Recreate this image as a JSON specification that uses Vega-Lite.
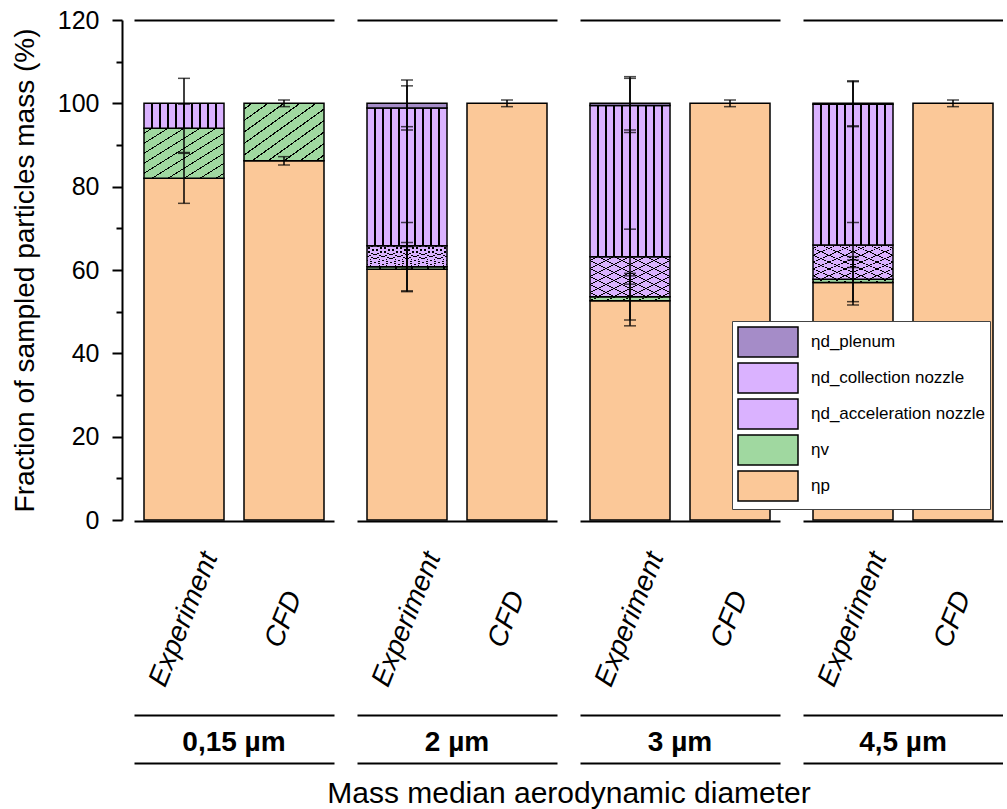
{
  "$schema": "https://vega.github.io/schema/vega-lite/v6.json",
  "padding": {"left": 11, "top": 8, "right": 0, "bottom": 0},
  "config": {
    "view": {"stroke": null},
    "font": "Liberation Sans",
    "scale": {"bandPaddingInner": 0.2, "bandPaddingOuter": 0.1},
    "axis": {"labelColor": "black", "titleColor": "black", "domainColor": "black", "tickColor": "black", "grid": false, "labelFont": "Liberation Sans", "titleFont": "Liberation Sans"},
    "axisY": {"orient": "left", "offset": 12, "tickCount": 12, "labelExpr": "datum.value % 20 === 0 ? datum.label : ''", "tickWidth": 2, "domainWidth": 2, "labelFontSize": 25, "labelPadding": 13, "titleFontSize": 28, "titleFontWeight": "normal", "titlePadding": 18}
  },
  "data": {"values": [
    {"group": "0,15 µm", "type": "Experiment", "series": "ηp", "value": 82.0, "err": 6.0},
    {"group": "0,15 µm", "type": "Experiment", "series": "ηv", "value": 12.0, "err": 5.8},
    {"group": "0,15 µm", "type": "Experiment", "series": "ηd_collection nozzle", "value": 6.0, "err": 6.0},
    {"group": "0,15 µm", "type": "CFD", "series": "ηp", "value": 86.2, "err": 1.0},
    {"group": "0,15 µm", "type": "CFD", "series": "ηv", "value": 13.8, "err": 0.8},
    {"group": "2 µm", "type": "Experiment", "series": "ηp", "value": 60.2, "err": 5.4},
    {"group": "2 µm", "type": "Experiment", "series": "ηv", "value": 0.6, "err": 5.8},
    {"group": "2 µm", "type": "Experiment", "series": "ηd_acceleration nozzle", "value": 5.0, "err": 5.6},
    {"group": "2 µm", "type": "Experiment", "series": "ηd_collection nozzle", "value": 33.1, "err": 5.3},
    {"group": "2 µm", "type": "Experiment", "series": "ηd_plenum", "value": 1.1, "err": 5.6},
    {"group": "2 µm", "type": "CFD", "series": "ηp", "value": 100.0, "err": 0.8},
    {"group": "3 µm", "type": "Experiment", "series": "ηp", "value": 52.6, "err": 6.0},
    {"group": "3 µm", "type": "Experiment", "series": "ηv", "value": 1.0, "err": 5.6},
    {"group": "3 µm", "type": "Experiment", "series": "ηd_acceleration nozzle", "value": 9.6, "err": 6.6},
    {"group": "3 µm", "type": "Experiment", "series": "ηd_collection nozzle", "value": 36.3, "err": 6.5},
    {"group": "3 µm", "type": "Experiment", "series": "ηd_plenum", "value": 0.5, "err": 6.4},
    {"group": "3 µm", "type": "CFD", "series": "ηp", "value": 100.0, "err": 0.8},
    {"group": "4,5 µm", "type": "Experiment", "series": "ηp", "value": 57.0, "err": 5.4},
    {"group": "4,5 µm", "type": "Experiment", "series": "ηv", "value": 0.8, "err": 5.4},
    {"group": "4,5 µm", "type": "Experiment", "series": "ηd_acceleration nozzle", "value": 8.2, "err": 5.4},
    {"group": "4,5 µm", "type": "Experiment", "series": "ηd_collection nozzle", "value": 33.8, "err": 5.4},
    {"group": "4,5 µm", "type": "Experiment", "series": "ηd_plenum", "value": 0.2, "err": 5.4},
    {"group": "4,5 µm", "type": "CFD", "series": "ηp", "value": 100.0, "err": 0.8}
  ]},
  "transform": [
    {"calculate": "indexof(['ηp','ηv','ηd_acceleration nozzle','ηd_collection nozzle','ηd_plenum'], datum.series)", "as": "idx"},
    {"stack": "value", "groupby": ["group", "type"], "sort": [{"field": "idx", "order": "ascending"}], "as": ["v0", "v1"]},
    {"calculate": "datum.v1 - datum.err", "as": "lo"},
    {"calculate": "datum.v1 + datum.err", "as": "hi"}
  ],
  "facet": {"column": {"field": "group", "type": "nominal", "sort": ["0,15 µm", "2 µm", "3 µm", "4,5 µm"], "title": "Mass median aerodynamic diameter",
    "header": {"labelOrient": "bottom", "labelFontSize": 28, "labelFontWeight": "bold", "labelColor": "black", "labelFont": "Liberation Sans", "labelPadding": -34,
      "titleOrient": "bottom", "titleFontSize": 30, "titleFontWeight": "normal", "titleColor": "black", "titleFont": "Liberation Sans", "titlePadding": 6}}},
  "spacing": 23,
  "spec": {
    "width": 200,
    "height": 500,
    "resolve": {"axis": {"x": "independent"}},
    "layer": [
      {
        "mark": {"type": "bar", "stroke": "black", "strokeWidth": 1.5},
        "encoding": {
          "x": {"field": "type", "type": "nominal", "sort": ["Experiment", "CFD"],
            "axis": {"orient": "bottom", "title": null, "labelAngle": -68, "labelAlign": "center", "labelBaseline": "middle", "labelPadding": 98, "labelFontSize": 28, "labelFontStyle": "italic", "ticks": false, "tickSize": 0, "domainWidth": 2, "labelOverlap": false, "labelLimit": 300}},
          "y": {"field": "v0", "type": "quantitative", "scale": {"domain": [0, 120], "nice": false}, "title": "Fraction of sampled particles mass (%)",
            "axis": {"tickSize": {"condition": {"test": "datum.value % 20 !== 0", "value": 6}, "value": 10}}},
          "y2": {"field": "v1"},
          "fill": {"field": "series", "type": "nominal",
            "scale": {"domain": ["ηd_plenum", "ηd_collection nozzle", "ηd_acceleration nozzle", "ηv", "ηp"], "range": ["#A58CC8", "#DAB2FF", "#DAB2FF", "#A0D8A0", "#FBC898"]},
            "legend": {"title": null, "orient": "none", "legendX": 598, "legendY": 301, "symbolType": "M-2,-1H2V1H-2Z", "symbolSize": 900, "symbolOffset": 15, "labelOffset": 27,
              "labelFontSize": 17, "labelFont": "Liberation Sans", "labelColor": "black", "rowPadding": 0, "padding": 5, "strokeColor": "#444", "fillColor": "white",
              "symbolStrokeColor": "black", "symbolStrokeWidth": 1.5, "labelLimit": 300}
          }
        }
      },
      {
        "transform": [{"filter": "datum.series === 'ηd_collection nozzle'"}],
        "mark": {"type": "bar", "strokeWidth": 0, "fill": {"gradient": "linear", "x1": 0, "y1": 0, "x2": 1, "y2": 0, "stops": [
          {"offset": 0, "color": "rgba(0,0,0,0)"},
          {"offset": 0.092, "color": "rgba(0,0,0,0)"}, {"offset": 0.092, "color": "#000"}, {"offset": 0.108, "color": "#000"}, {"offset": 0.108, "color": "rgba(0,0,0,0)"},
          {"offset": 0.192, "color": "rgba(0,0,0,0)"}, {"offset": 0.192, "color": "#000"}, {"offset": 0.208, "color": "#000"}, {"offset": 0.208, "color": "rgba(0,0,0,0)"},
          {"offset": 0.292, "color": "rgba(0,0,0,0)"}, {"offset": 0.292, "color": "#000"}, {"offset": 0.308, "color": "#000"}, {"offset": 0.308, "color": "rgba(0,0,0,0)"},
          {"offset": 0.392, "color": "rgba(0,0,0,0)"}, {"offset": 0.392, "color": "#000"}, {"offset": 0.408, "color": "#000"}, {"offset": 0.408, "color": "rgba(0,0,0,0)"},
          {"offset": 0.492, "color": "rgba(0,0,0,0)"}, {"offset": 0.492, "color": "#000"}, {"offset": 0.508, "color": "#000"}, {"offset": 0.508, "color": "rgba(0,0,0,0)"},
          {"offset": 0.592, "color": "rgba(0,0,0,0)"}, {"offset": 0.592, "color": "#000"}, {"offset": 0.608, "color": "#000"}, {"offset": 0.608, "color": "rgba(0,0,0,0)"},
          {"offset": 0.692, "color": "rgba(0,0,0,0)"}, {"offset": 0.692, "color": "#000"}, {"offset": 0.708, "color": "#000"}, {"offset": 0.708, "color": "rgba(0,0,0,0)"},
          {"offset": 0.792, "color": "rgba(0,0,0,0)"}, {"offset": 0.792, "color": "#000"}, {"offset": 0.808, "color": "#000"}, {"offset": 0.808, "color": "rgba(0,0,0,0)"},
          {"offset": 0.892, "color": "rgba(0,0,0,0)"}, {"offset": 0.892, "color": "#000"}, {"offset": 0.908, "color": "#000"}, {"offset": 0.908, "color": "rgba(0,0,0,0)"},
          {"offset": 1, "color": "rgba(0,0,0,0)"}]}},
        "encoding": {
          "x": {"field": "type", "type": "nominal", "sort": ["Experiment", "CFD"], "axis": {"orient": "bottom", "offset": 194, "title": null, "ticks": false, "labels": false, "domainWidth": 2}},
          "y": {"field": "v0", "type": "quantitative", "scale": {"domain": [0, 120], "nice": false}, "title": "Fraction of sampled particles mass (%)"},
          "y2": {"field": "v1"}
        }
      },
      {
        "transform": [{"filter": "datum.series === 'ηv' || datum.series === 'ηd_acceleration nozzle'"}],
        "mark": {"type": "bar", "strokeWidth": 0, "fill": {"gradient": "linear", "x1": 0, "y1": 0, "x2": 1, "y2": 1, "stops": [
          {"offset": 0, "color": "rgba(0,0,0,0)"},
          {"offset": 0.044, "color": "rgba(0,0,0,0)"}, {"offset": 0.044, "color": "#000"}, {"offset": 0.056, "color": "#000"}, {"offset": 0.056, "color": "rgba(0,0,0,0)"},
          {"offset": 0.144, "color": "rgba(0,0,0,0)"}, {"offset": 0.144, "color": "#000"}, {"offset": 0.156, "color": "#000"}, {"offset": 0.156, "color": "rgba(0,0,0,0)"},
          {"offset": 0.244, "color": "rgba(0,0,0,0)"}, {"offset": 0.244, "color": "#000"}, {"offset": 0.256, "color": "#000"}, {"offset": 0.256, "color": "rgba(0,0,0,0)"},
          {"offset": 0.344, "color": "rgba(0,0,0,0)"}, {"offset": 0.344, "color": "#000"}, {"offset": 0.356, "color": "#000"}, {"offset": 0.356, "color": "rgba(0,0,0,0)"},
          {"offset": 0.444, "color": "rgba(0,0,0,0)"}, {"offset": 0.444, "color": "#000"}, {"offset": 0.456, "color": "#000"}, {"offset": 0.456, "color": "rgba(0,0,0,0)"},
          {"offset": 0.544, "color": "rgba(0,0,0,0)"}, {"offset": 0.544, "color": "#000"}, {"offset": 0.556, "color": "#000"}, {"offset": 0.556, "color": "rgba(0,0,0,0)"},
          {"offset": 0.644, "color": "rgba(0,0,0,0)"}, {"offset": 0.644, "color": "#000"}, {"offset": 0.656, "color": "#000"}, {"offset": 0.656, "color": "rgba(0,0,0,0)"},
          {"offset": 0.744, "color": "rgba(0,0,0,0)"}, {"offset": 0.744, "color": "#000"}, {"offset": 0.756, "color": "#000"}, {"offset": 0.756, "color": "rgba(0,0,0,0)"},
          {"offset": 0.844, "color": "rgba(0,0,0,0)"}, {"offset": 0.844, "color": "#000"}, {"offset": 0.856, "color": "#000"}, {"offset": 0.856, "color": "rgba(0,0,0,0)"},
          {"offset": 0.944, "color": "rgba(0,0,0,0)"}, {"offset": 0.944, "color": "#000"}, {"offset": 0.956, "color": "#000"}, {"offset": 0.956, "color": "rgba(0,0,0,0)"},
          {"offset": 1, "color": "rgba(0,0,0,0)"}]}},
        "encoding": {
          "x": {"field": "type", "type": "nominal", "sort": ["Experiment", "CFD"], "axis": {"orient": "bottom", "offset": 242, "title": null, "ticks": false, "labels": false, "domainWidth": 2}},
          "y": {"field": "v0", "type": "quantitative", "scale": {"domain": [0, 120], "nice": false}, "title": "Fraction of sampled particles mass (%)"},
          "y2": {"field": "v1"}
        }
      },
      {
        "transform": [{"filter": "datum.series === 'ηd_acceleration nozzle'"}],
        "mark": {"type": "bar", "strokeWidth": 0, "fill": {"gradient": "linear", "x1": 1, "y1": 0, "x2": 0, "y2": 1, "stops": [
          {"offset": 0, "color": "rgba(0,0,0,0)"},
          {"offset": 0.044, "color": "rgba(0,0,0,0)"}, {"offset": 0.044, "color": "#000"}, {"offset": 0.056, "color": "#000"}, {"offset": 0.056, "color": "rgba(0,0,0,0)"},
          {"offset": 0.144, "color": "rgba(0,0,0,0)"}, {"offset": 0.144, "color": "#000"}, {"offset": 0.156, "color": "#000"}, {"offset": 0.156, "color": "rgba(0,0,0,0)"},
          {"offset": 0.244, "color": "rgba(0,0,0,0)"}, {"offset": 0.244, "color": "#000"}, {"offset": 0.256, "color": "#000"}, {"offset": 0.256, "color": "rgba(0,0,0,0)"},
          {"offset": 0.344, "color": "rgba(0,0,0,0)"}, {"offset": 0.344, "color": "#000"}, {"offset": 0.356, "color": "#000"}, {"offset": 0.356, "color": "rgba(0,0,0,0)"},
          {"offset": 0.444, "color": "rgba(0,0,0,0)"}, {"offset": 0.444, "color": "#000"}, {"offset": 0.456, "color": "#000"}, {"offset": 0.456, "color": "rgba(0,0,0,0)"},
          {"offset": 0.544, "color": "rgba(0,0,0,0)"}, {"offset": 0.544, "color": "#000"}, {"offset": 0.556, "color": "#000"}, {"offset": 0.556, "color": "rgba(0,0,0,0)"},
          {"offset": 0.644, "color": "rgba(0,0,0,0)"}, {"offset": 0.644, "color": "#000"}, {"offset": 0.656, "color": "#000"}, {"offset": 0.656, "color": "rgba(0,0,0,0)"},
          {"offset": 0.744, "color": "rgba(0,0,0,0)"}, {"offset": 0.744, "color": "#000"}, {"offset": 0.756, "color": "#000"}, {"offset": 0.756, "color": "rgba(0,0,0,0)"},
          {"offset": 0.844, "color": "rgba(0,0,0,0)"}, {"offset": 0.844, "color": "#000"}, {"offset": 0.856, "color": "#000"}, {"offset": 0.856, "color": "rgba(0,0,0,0)"},
          {"offset": 0.944, "color": "rgba(0,0,0,0)"}, {"offset": 0.944, "color": "#000"}, {"offset": 0.956, "color": "#000"}, {"offset": 0.956, "color": "rgba(0,0,0,0)"},
          {"offset": 1, "color": "rgba(0,0,0,0)"}]}},
        "encoding": {
          "x": {"field": "type", "type": "nominal", "sort": ["Experiment", "CFD"], "axis": {"orient": "top", "title": null, "ticks": false, "labels": false, "domainWidth": 2}},
          "y": {"field": "v0", "type": "quantitative", "scale": {"domain": [0, 120], "nice": false}, "title": "Fraction of sampled particles mass (%)"},
          "y2": {"field": "v1"}
        }
      },
      {
        "mark": {"type": "rule", "color": "black", "strokeWidth": 1.5},
        "encoding": {
          "x": {"field": "type", "type": "nominal", "sort": ["Experiment", "CFD"], "axis": null},
          "y": {"field": "lo", "type": "quantitative", "scale": {"domain": [0, 120], "nice": false}, "title": "Fraction of sampled particles mass (%)"},
          "y2": {"field": "hi"}
        }
      },
      {
        "mark": {"type": "tick", "color": "black", "size": 12, "thickness": 1.5},
        "encoding": {
          "x": {"field": "type", "type": "nominal", "sort": ["Experiment", "CFD"], "axis": null},
          "y": {"field": "lo", "type": "quantitative", "scale": {"domain": [0, 120], "nice": false}, "title": "Fraction of sampled particles mass (%)"}
        }
      },
      {
        "mark": {"type": "tick", "color": "black", "size": 12, "thickness": 1.5},
        "encoding": {
          "x": {"field": "type", "type": "nominal", "sort": ["Experiment", "CFD"], "axis": null},
          "y": {"field": "hi", "type": "quantitative", "scale": {"domain": [0, 120], "nice": false}, "title": "Fraction of sampled particles mass (%)"}
        }
      }
    ]
  }
}
